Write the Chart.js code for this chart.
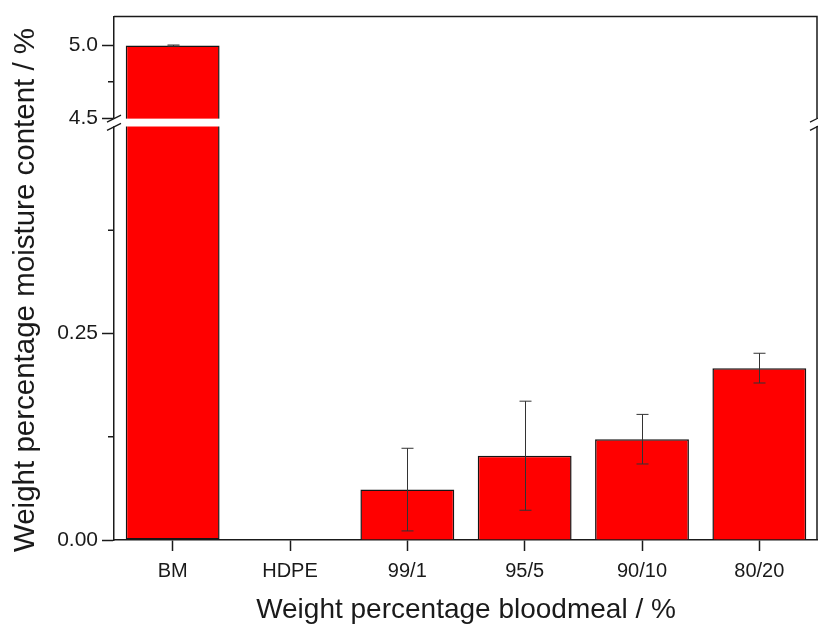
<!DOCTYPE html>
<html>
<head>
<meta charset="utf-8">
<script src="https://cdn.jsdelivr.net/npm/chart.js@4.4.1/dist/chart.umd.min.js"></script>
<style>
  html, body { margin: 0; padding: 0; background: #fff; }
</style>
</head>
<body>
<canvas id="myChart" width="818" height="629"></canvas>
<script>
const categories = ['BM', 'HDPE', '99/1', '95/5', '90/10', '80/20'];
const moisture = [5.0, 0, 0.061, 0.102, 0.122, 0.208];
const moistureErr = [0.004, 0, 0.050, 0.066, 0.030, 0.018];

const lowerTicks = [0, 0.125, 0.25, 0.375];
const lowerLabels = ['0.00', '', '0.25', ''];
const upperTicks = [4.5, 4.75, 5.0];
const upperLabels = ['4.5', '', '5.0'];

// broken axis ranges
const lowerMax = 0.5;
const upperMin = 4.44;
const upperMax = 5.2;

const FONT = 'Liberation Sans, Arial, sans-serif';
const INK = '#1a1a1a';

const lowerData = moisture.map(v => Math.min(v, lowerMax));
const upperData = moisture.map(v => v > upperMin ? v : null);

// error bars drawn against whichever scale the bar lives on
const errorBars = {
  id: 'errorBars',
  afterDatasetsDraw(chart) {
    const ctx = chart.ctx;
    const xs = chart.scales.x;
    ctx.save();
    ctx.strokeStyle = '#333';
    ctx.lineWidth = 1;
    moisture.forEach((v, i) => {
      const e = moistureErr[i];
      if (!e) return;
      const sc = v > upperMin ? chart.scales.y2 : chart.scales.y;
      const x = Math.round(xs.getPixelForValue(i)) + 0.5;
      const yt = sc.getPixelForValue(v + e);
      const yb = sc.getPixelForValue(v - e);
      ctx.beginPath();
      ctx.moveTo(x, yt); ctx.lineTo(x, yb);
      ctx.moveTo(x - 6, yt); ctx.lineTo(x + 6, yt);
      ctx.moveTo(x - 6, yb); ctx.lineTo(x + 6, yb);
      ctx.stroke();
    });
    ctx.restore();
  }
};

// frame, minor ticks, axis break and titles
const decor = {
  id: 'decor',
  afterDraw(chart) {
    const ctx = chart.ctx;
    const a = chart.chartArea;
    const yBreakTop = chart.scales.y2.getPixelForValue(4.5) + 0.5;
    const yBreakBot = chart.scales.y.getPixelForValue(lowerMax);
    ctx.save();
    ctx.strokeStyle = INK;
    ctx.lineWidth = 1.5;
    ctx.beginPath();
    ctx.moveTo(a.left, a.top); ctx.lineTo(a.right - 1, a.top);
    ctx.lineTo(a.right - 1, a.bottom);
    ctx.stroke();

    // short minor ticks
    ctx.beginPath();
    [[chart.scales.y, lowerTicks, lowerLabels], [chart.scales.y2, upperTicks, upperLabels]].forEach(([sc, tv, tl]) => {
      tv.forEach((v, i) => {
        if (tl[i] !== '') return;
        const y = sc.getPixelForValue(v);
        ctx.moveTo(a.left - 6, y); ctx.lineTo(a.left, y);
      });
    });
    ctx.stroke();

    ctx.fillStyle = '#fff';
    ctx.fillRect(a.left - 1, yBreakTop, a.right - a.left + 1, yBreakBot - yBreakTop - 0.5);

    ctx.lineWidth = 1.3;
    [a.left, a.right - 1].forEach(x => {
      ctx.beginPath();
      [yBreakTop, yBreakBot].forEach(y => {
        ctx.moveTo(x - 7, y + 3.5);
        ctx.lineTo(x + 7, y - 3.5);
      });
      ctx.stroke();
    });

    ctx.fillStyle = INK;
    ctx.font = '28px ' + FONT;
    ctx.textAlign = 'center';
    ctx.textBaseline = 'alphabetic';
    ctx.fillText('Weight percentage bloodmeal / %', (a.left + a.right) / 2, 618);

    ctx.translate(34, 290);
    ctx.rotate(-Math.PI / 2);
    ctx.font = '29.5px ' + FONT;
    ctx.fillText('Weight percentage moisture content / %', 0, 0);
    ctx.restore();
  }
};

const hideMinor = labels => c => labels[c.index] === '' ? 'rgba(0,0,0,0)' : INK;

const axisTicks = { color: INK, font: { family: FONT, size: 21 }, padding: 4, autoSkip: false };

const ctx = document.getElementById('myChart').getContext('2d');
new Chart(ctx, {
  type: 'bar',
  data: {
    labels: categories,
    datasets: [{
      label: 'moisture',
      data: lowerData,
      yAxisID: 'y',
      grouped: false,
      backgroundColor: '#ff0000',
      borderColor: '#151515',
      borderWidth: 1.5,
      borderSkipped: c => moisture[c.dataIndex] > lowerMax ? 'top' : 'start',
      categoryPercentage: 0.8,
      barPercentage: 1.0
    }, {
      label: 'moisture (upper)',
      data: upperData,
      yAxisID: 'y2',
      grouped: false,
      backgroundColor: '#ff0000',
      borderColor: '#151515',
      borderWidth: 1.5,
      categoryPercentage: 0.8,
      barPercentage: 1.0
    }]
  },
  options: {
    responsive: false,
    animation: false,
    layout: { padding: { left: 0, right: 0, top: 13, bottom: 0 } },
    plugins: {
      legend: { display: false },
      tooltip: { enabled: false }
    },
    scales: {
      x: {
        grid: { drawOnChartArea: false, offset: false, tickLength: 11, color: INK, tickWidth: 1.5 },
        border: { display: true, color: INK, width: 1.5 },
        ticks: { color: INK, font: { family: FONT, size: 20 }, padding: 8, maxRotation: 0 },
        afterFit: s => { s.height = 89; }
      },
      y: {
        position: 'left',
        stack: 'v',
        stackWeight: 416,
        min: 0,
        max: lowerMax,
        grid: { drawOnChartArea: false, tickLength: 12, tickWidth: 1.5, color: hideMinor(lowerLabels) },
        border: { display: true, color: INK, width: 1.5 },
        afterBuildTicks: s => { s.ticks = lowerTicks.map(v => ({ value: v })); },
        ticks: { ...axisTicks, callback: (val, i) => lowerLabels[i] },
        afterFit: s => { s.width = 114; }
      },
      y2: {
        position: 'left',
        stack: 'v',
        stackWeight: 111,
        min: upperMin,
        max: upperMax,
        grid: { drawOnChartArea: false, tickLength: 12, tickWidth: 1.5, color: hideMinor(upperLabels) },
        border: { display: true, color: INK, width: 1.5 },
        afterBuildTicks: s => { s.ticks = upperTicks.map(v => ({ value: v })); },
        ticks: { ...axisTicks, callback: (val, i) => upperLabels[i] },
        afterFit: s => { s.width = 114; }
      }
    }
  },
  plugins: [errorBars, decor]
});
</script>
</body>
</html>
